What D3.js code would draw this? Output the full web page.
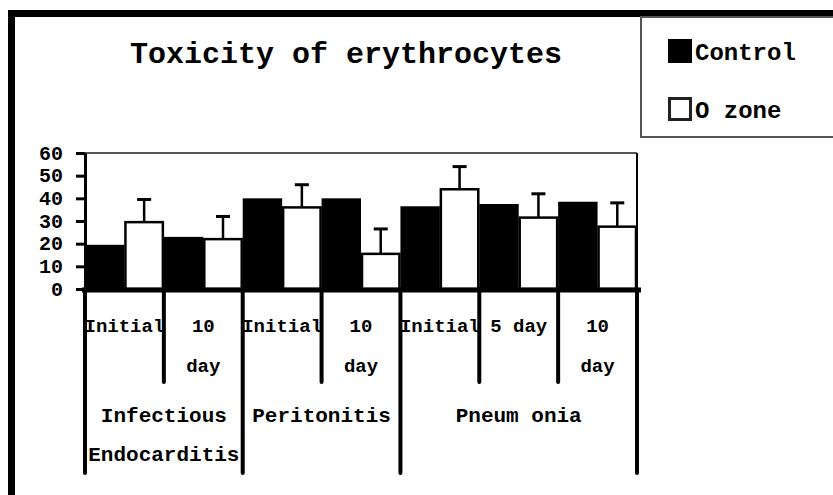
<!DOCTYPE html>
<html>
<head>
<meta charset="utf-8">
<script src="https://cdn.jsdelivr.net/npm/d3@7"></script>
<style>
  body { margin: 0; background: #fff; }
  svg { display: block; }
  text { font-family: "Courier New", "Liberation Mono", monospace; font-weight: bold; fill: #000; }
</style>
</head>
<body>
<div id="chart"></div>
<script>
// Chart values
var subLabels = [["Initial"], ["10", "day"], ["Initial"], ["10", "day"], ["Initial"], ["5 day"], ["10", "day"]]
var controlValues = [19.5, 23, 40, 40, 36.5, 37.5, 38.5]
var ozoneValues = [29.5, 22, 36, 15.5, 44, 31.5, 27.5]
var ozoneErrors = [10, 10, 10, 11, 10, 10.5, 10.5]
var groupNames = [["Infectious", "Endocarditis"], ["Peritonitis"], ["Pneum onia"]]
var groupSpans = [2, 2, 3]
var yTicks = [0, 10, 20, 30, 40, 50, 60]
var legendKeys = ["Control", "O zone"]

var width = 833
var height = 495
var plot = {left: 85, right: 637, top: 153, bottom: 289}

const svg = d3.select("#chart").append("svg")
              .attr("width", width)
              .attr("height", height)

// Outer frame (cut off on the right and bottom like the source)
svg.append("rect").attr("x", 11.5).attr("y", 13.5)
   .attr("width", 900).attr("height", 600)
   .attr("fill", "none").attr("stroke", "#000").attr("stroke-width", 7)

// Title
svg.append("text").attr("x", 346).attr("y", 63)
   .attr("text-anchor", "middle").attr("font-size", 30)
   .text("Toxicity of erythrocytes")

// Legend box
svg.append("rect").attr("x", 641).attr("y", 17)
   .attr("width", 250).attr("height", 120)
   .attr("fill", "#fff").attr("stroke", "#555").attr("stroke-width", 2)

var legend = svg.selectAll(".legendEntry").data(legendKeys).enter()
                .append("g").attr("class", "legendEntry")
                .attr("transform", (d, i) => "translate(668," + (39 + i * 58) + ")")

legend.append("rect")
      .attr("x", (d, i) => i == 0 ? 0 : 1.5).attr("y", (d, i) => i == 0 ? 0 : 1.5)
      .attr("width", (d, i) => i == 0 ? 24 : 21).attr("height", (d, i) => i == 0 ? 24 : 21)
      .attr("fill", (d, i) => i == 0 ? "#000" : "#fff")
      .attr("stroke", "#222").attr("stroke-width", (d, i) => i == 0 ? 0 : 3)

legend.append("text").attr("x", 27).attr("y", 21)
      .attr("font-size", 24).text((d) => d)

// Scales
var xScale = d3.scaleBand()
               .domain(d3.range(subLabels.length))
               .range([plot.left, plot.right])
               .padding(0)

var yScale = d3.scaleLinear()
               .domain([0, 60])
               .range([plot.bottom, plot.top])

var bw = xScale.bandwidth()

// Plot frame top and right
svg.append("line").attr("x1", plot.left).attr("x2", plot.right)
   .attr("y1", plot.top).attr("y2", plot.top)
   .attr("stroke", "#555").attr("stroke-width", 2)
svg.append("line").attr("x1", plot.right).attr("x2", plot.right)
   .attr("y1", plot.top).attr("y2", plot.bottom)
   .attr("stroke", "#000").attr("stroke-width", 2)

// Control bars
svg.selectAll(".controlBar").data(controlValues).enter()
   .append("rect").attr("class", "controlBar")
   .attr("x", (d, i) => xScale(i))
   .attr("y", (d) => yScale(d))
   .attr("width", bw / 2)
   .attr("height", (d) => yScale(0) - yScale(d))
   .attr("fill", "#000")

// O zone bars
svg.selectAll(".ozoneBar").data(ozoneValues).enter()
   .append("rect").attr("class", "ozoneBar")
   .attr("x", (d, i) => xScale(i) + bw / 2 + 1)
   .attr("y", (d) => yScale(d))
   .attr("width", bw / 2 - 2)
   .attr("height", (d) => yScale(0) - yScale(d))
   .attr("fill", "#fff").attr("stroke", "#000").attr("stroke-width", 2.5)

// Error bars on O zone
var err = svg.selectAll(".errBar").data(ozoneValues).enter()
             .append("g").attr("class", "errBar")
err.append("line")
   .attr("x1", (d, i) => xScale(i) + bw * 0.75).attr("x2", (d, i) => xScale(i) + bw * 0.75)
   .attr("y1", (d) => yScale(d)).attr("y2", (d, i) => yScale(d + ozoneErrors[i]))
   .attr("stroke", "#000").attr("stroke-width", 2.5)
err.append("line")
   .attr("x1", (d, i) => xScale(i) + bw * 0.75 - 7).attr("x2", (d, i) => xScale(i) + bw * 0.75 + 7)
   .attr("y1", (d, i) => yScale(d + ozoneErrors[i])).attr("y2", (d, i) => yScale(d + ozoneErrors[i]))
   .attr("stroke", "#000").attr("stroke-width", 3)

// Y axis
var yAxis = d3.axisLeft(yScale).tickValues(yTicks).tickSize(9).tickSizeOuter(0).tickPadding(13)
var yG = svg.append("g").attr("transform", "translate(" + plot.left + ",0)").call(yAxis)
yG.select(".domain").attr("stroke", "#000").attr("stroke-width", 3)
yG.selectAll(".tick line").attr("stroke", "#000").attr("stroke-width", 3)
yG.selectAll(".tick text").attr("font-size", 20).attr("font-family", "'Courier New', 'Liberation Mono', monospace")
  .attr("font-weight", "bold").attr("fill", "#000").attr("dy", "0.3em")

// Category table below the axis
svg.append("line").attr("x1", plot.left - 3).attr("x2", plot.right + 4)
   .attr("y1", plot.bottom + 1).attr("y2", plot.bottom + 1)
   .attr("stroke", "#000").attr("stroke-width", 5)

var groupEdges = [0]
groupSpans.forEach((s) => groupEdges.push(groupEdges[groupEdges.length - 1] + s))
var edges = d3.range(subLabels.length + 1)
svg.selectAll(".sepLine").data(edges).enter()
   .append("line").attr("class", "sepLine")
   .attr("x1", (d) => plot.left + d * bw).attr("x2", (d) => plot.left + d * bw)
   .attr("y1", plot.bottom)
   .attr("y2", (d) => groupEdges.includes(d) ? 473 : 382)
   .attr("stroke", "#000").attr("stroke-width", 4).attr("stroke-linecap", "round")

svg.selectAll(".subLabel").data(subLabels).enter()
   .append("text").attr("class", "subLabel")
   .attr("text-anchor", "middle").attr("font-size", 19)
   .attr("x", (d, i) => xScale(i) + bw / 2)
   .attr("y", 332)
   .selectAll("tspan").data((d) => d).enter()
   .append("tspan")
   .attr("x", function() { return this.parentNode.getAttribute("x") })
   .attr("dy", (d, j) => j == 0 ? 0 : 40)
   .text((d) => d)

svg.selectAll(".groupLabel").data(groupNames).enter()
   .append("text").attr("class", "groupLabel")
   .attr("text-anchor", "middle").attr("font-size", 21)
   .attr("x", (d, i) => plot.left + (groupEdges[i] + groupEdges[i + 1]) / 2 * bw)
   .attr("y", 422)
   .selectAll("tspan").data((d) => d).enter()
   .append("tspan")
   .attr("x", function() { return this.parentNode.getAttribute("x") })
   .attr("dy", (d, j) => j == 0 ? 0 : 39)
   .text((d) => d)
</script>
</body>
</html>
